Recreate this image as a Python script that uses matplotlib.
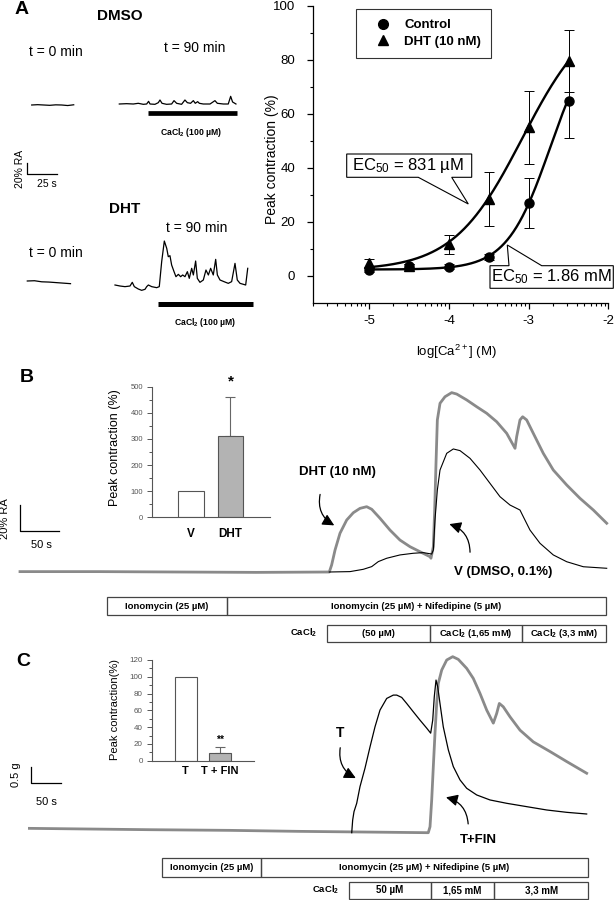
import numpy as np
import matplotlib
matplotlib.use("Agg")
import matplotlib.pyplot as plt
from matplotlib.patches import Rectangle, Polygon, FancyArrowPatch
from matplotlib.lines import Line2D
from matplotlib.ticker import FixedLocator, MultipleLocator

plt.rcParams['font.family'] = ['Liberation Sans', 'DejaVu Sans']
plt.rcParams['mathtext.fontset'] = 'custom'
plt.rcParams['mathtext.rm'] = 'Liberation Sans'
plt.rcParams['mathtext.it'] = 'Liberation Sans:italic'
plt.rcParams['mathtext.bf'] = 'Liberation Sans:bold'
plt.rcParams['axes.unicode_minus'] = False

# ---------------- DATA ----------------
# Panel A: dose-response
log_ca = [-5.0, -4.5, -4.0, -3.5, -3.0, -2.5]
control_mean = [2.2, 3.7, 3.4, 7.0, 26.9, 64.7]
control_err = [0.8, 0.6, 0.8, 1.0, 9.2, 13.6]
dht_mean = [4.7, 3.6, 11.7, 28.6, 55.0, 79.5]
dht_err = [1.5, 0.8, 3.5, 10.0, 13.5, 11.5]
control_fit = dict(bottom=2.3, top=93.0, log_ec50=-2.73, hill=1.6)
dht_fit = dict(bottom=2.0, top=100.0, log_ec50=-3.08, hill=1.0)
ec50_labels = ["EC$_{50}$ = 831 µM", "EC$_{50}$ = 1.86 mM"]

# Panel A traces (time in s, amplitude in % RA)
dmso0_t = [0, 5, 10, 15, 20, 25, 30, 35]
dmso0_a = [0, 0.6, 0, -0.6, 0.3, 0, -1.0, 0.4]
dmso90_t = [0, 6.1, 11.7, 15.8, 20.0, 22.8, 24.4, 25.6, 29.7, 32.5, 33.9, 35.6, 39.4,
            43.6, 45.6, 47.8, 51.9, 54.7, 56.7, 59.4, 61.7, 63.3, 65.3, 66.7, 70.0,
            75.6, 79.7, 81.7, 86.7, 90.8, 92.8, 94.4, 97.2]
dmso90_a = [0, 0.6, 0, 1.3, -0.6, 0, 5.0, 0, -0.6, 2.5, 7.5, 1.3, -0.6,
            0, 6.3, 1.3, -0.6, 7.5, 2.5, 1.3, 6.3, 1.3, 4.4, 1.3, 0,
            0, 6.3, 1.3, 0, 0, 14.4, 3.8, 0]
dht0_t = [0, 6, 12, 18, 24, 30, 36]
dht0_a = [0, 0.5, -1.5, -2.0, -3.0, -4.0, -5.0]
dht90_t = [0, 4.2, 8.3, 12.5, 14.4, 16.1, 19.4, 22.2, 25.0, 26.4, 27.8, 30.6, 34.7,
           36.9, 38.9, 41.1, 43.1, 44.4, 45.8, 47.2, 49.2, 50.8, 52.8, 54.7, 56.4,
           58.3, 60.3, 61.9, 63.9, 65.3, 67.2, 68.6, 70.8, 73.6, 75.8, 77.8, 79.7,
           81.9, 83.9, 85.3, 87.5, 90.8, 94.4, 97.2, 100.0, 101.9, 104.2, 108.9, 110.6]
dht90_a = [0, -1.9, -3.1, -1.9, 5.0, -3.1, -7.5, -10, -8.1, -3.1, 0, -3.1, -5,
           -3.1, 43.8, 82.5, 68.8, 53.1, 55, 37.5, 25, 15.6, 20, 15.6, 18.8,
           15.6, 25, 12.5, 31.3, 18.8, 45, 12.5, 5, 9.4, 28.1, 18.8, 31.3,
           18.8, 48.1, 18.8, 9.4, 6.3, 3.1, 6.3, 40.6, 9.4, 3.1, 0, 31.3]
dmso_cacl2_span = (23.6, 97.8)
dht_cacl2_span = (36.1, 114.7)

# Panel B traces (s, % RA)
b_dht_t = [0, 100, 200, 300, 393.0, 396.0, 400.3, 406.6, 415.1, 423.5, 432.0, 440.5,
           446.9, 457.4, 470.1, 482.8, 495.6, 508.3, 521.0, 522.2, 525.2, 526.9, 528.6,
           530.3, 533.7, 540.0, 548.5, 554.9, 567.6, 580.3, 593.0, 605.7, 618.4, 629.0,
           631.1, 635.3, 638.7, 643.8, 652.2, 664.9, 677.6, 694.7, 711.6, 728.5, 745.5]
b_dht_a = [0.3, 0.3, 0.0, -0.3, 0.0, 5.5, 17.1, 30.2, 40.5, 46.2, 49.6, 50.9,
           48.9, 41.9, 32.7, 24.9, 19.7, 15.8, 11.9, 10.7, 19.7, 48.3, 84.7,
           118.5, 131.5, 136.6, 139.8, 138.7, 134.1, 128.8, 123.7, 117.1, 108.1, 96.4,
           105.5, 118.5, 121.0, 118.5, 108.1, 92.5, 79.5, 67.8, 57.4, 48.3, 38.0]
b_v_t = [393.0, 419.3, 436.2, 446.9, 455.3, 465.9, 482.8, 499.7, 512.5, 523.1, 525.2,
         527.3, 530.3, 533.7, 542.2, 550.6, 559.1, 571.8, 584.5, 597.2, 609.9, 622.6,
         635.3, 639.5, 648.0, 660.7, 677.6, 694.7, 715.8, 745.5]
b_v_a = [0.0, 0.3, 2.1, 4.2, 8.1, 10.7, 13.3, 14.6, 15.1, 14.0, 17.1,
         40.5, 63.9, 79.5, 92.5, 95.9, 94.6, 88.6, 79.5, 69.1, 58.7, 52.2,
         48.3, 43.1, 32.7, 22.4, 13.3, 8.0, 4.1, 2.9]
inset_b_cats = ["V", "DHT"]
inset_b_vals = [100, 312]
inset_b_err = [0, 150]

# Panel C traces (s, g)
c_t_t = [537.2, 538.8, 541.0, 545.5, 551.0, 559.3, 567.7, 576.0, 584.3, 595.5, 606.5,
         612.2, 620.5, 628.8, 639.8, 651.0, 662.2, 668.8, 672.2, 674.8, 677.7, 680.5,
         684.3, 689.8, 698.2, 706.5, 717.7, 728.8, 745.5, 767.7, 795.5, 828.8, 862.2,
         895.5, 928.8]
c_t_a = [0.0, 0.38, 0.63, 0.88, 1.38, 1.93, 2.57, 3.17, 3.67, 4.02, 4.12,
         4.12, 4.05, 3.87, 3.62, 3.37, 3.13, 2.98, 3.37, 4.07, 4.57, 4.37,
         3.87, 3.17, 2.48, 1.98, 1.58, 1.33, 1.13, 0.98, 0.88, 0.78, 0.68,
         0.61, 0.56]
c_fin_t = [0, 100, 200, 334.3, 450, 560, 664.8, 667.7, 670.5, 673.2, 676.0, 678.8,
           681.5, 687.2, 695.5, 705.5, 714.8, 728.8, 739.8, 751.0, 762.2, 773.2, 778.8,
           783.2, 789.8, 801.0, 817.7, 839.8, 867.7, 895.5, 928.8]
c_fin_a = [0.13, 0.11, 0.09, 0.07, 0.04, 0.02, 0.0, 0.18, 0.98, 1.98, 2.98, 3.87,
           4.47, 4.87, 5.17, 5.27, 5.19, 4.92, 4.62, 4.17, 3.67, 3.28, 3.57,
           3.87, 3.77, 3.47, 3.07, 2.72, 2.43, 2.13, 1.78]
inset_c_cats = ["T", "T + FIN"]
inset_c_vals = [100, 9]
inset_c_err = [0, 7.5]

# ---------------- FIGURE ----------------
W, H = 615, 900
fig = plt.figure(figsize=(W / 100, H / 100), dpi=100)
GRAY = "#8a8a8a"


def px_axes(left, top, right, bottom):
    ax = fig.add_axes([left / W, 1 - bottom / H, (right - left) / W, (bottom - top) / H])
    ax.patch.set_alpha(0)
    return ax


def trace_axes(left, top, right, bottom, x0, y0, px_per_x, px_per_y):
    """Axes over a pixel region whose data origin (0,0) sits at pixel (x0, y0)."""
    ax = px_axes(left, top, right, bottom)
    ax.set_xlim((left - x0) / px_per_x, (right - x0) / px_per_x)
    ax.set_ylim((y0 - bottom) / px_per_y, (y0 - top) / px_per_y)
    ax.axis("off")
    return ax


def hill(x, bottom, top, log_ec50, hill):
    return bottom + (top - bottom) / (1 + 10 ** ((log_ec50 - x) * hill))


# ---- Panel A traces: one axes, seconds / %RA ----
A_S, A_P = 1.2, 0.533
axA = trace_axes(0, 0, 300, 340, 0, 0, A_S, A_P)


def put(ax, t, a, x_px, y_px, sx, sy, **kw):
    ax.plot(np.array(t) + x_px / sx, np.array(a) - y_px / sy, **kw)


put(axA, dmso0_t, dmso0_a, 31.7, 105, A_S, A_P, color="black", lw=0.9)
put(axA, dmso90_t, dmso90_a, 119.3, 104, A_S, A_P, color="black", lw=0.9)
put(axA, dht0_t, dht0_a, 27.3, 281, A_S, A_P, color="black", lw=0.9)
put(axA, dht90_t, dht90_a, 115, 285, A_S, A_P, color="black", lw=0.9)
axA.plot([119.3 / A_S + dmso_cacl2_span[0], 119.3 / A_S + dmso_cacl2_span[1]],
         [-113 / A_P] * 2, color="black", lw=3.4, solid_capstyle="butt")
axA.plot([115 / A_S + dht_cacl2_span[0], 115 / A_S + dht_cacl2_span[1]],
         [-304.2 / A_P] * 2, color="black", lw=3.6, solid_capstyle="butt")
# scale bar 20 %RA / 25 s
sbx, sby = 27.3 / A_S, -174 / A_P
axA.plot([sbx, sbx, sbx + 25], [sby + 20, sby, sby], color="black", lw=0.9)

# ---- Panel A dose-response ----
D_L, D_T, D_R, D_B = 313.3, 6, 608.5, 302.7
axD = px_axes(D_L, D_T, D_R, D_B)
axD.set_xlim(-5.7, -2)
axD.set_ylim(-10, 100)
xs = np.linspace(log_ca[0], log_ca[-1], 200)
axD.plot(xs, hill(xs, **control_fit), color="black", lw=1.7, zorder=2)
axD.plot(xs, hill(xs, **dht_fit), color="black", lw=1.7, zorder=2)
axD.errorbar(log_ca, control_mean, yerr=control_err, fmt="none", ecolor="black",
             elinewidth=0.7, capsize=3.5, capthick=0.7, zorder=3)
axD.errorbar(log_ca, dht_mean, yerr=dht_err, fmt="none", ecolor="black",
             elinewidth=0.7, capsize=3.5, capthick=0.7, zorder=3)
axD.plot(log_ca, control_mean, "o", color="black", ms=6.5, zorder=4)
axD.plot(log_ca, dht_mean, "^", color="black", ms=7, zorder=4)
for s in ["top", "right"]:
    axD.spines[s].set_visible(False)
for s in ["left", "bottom"]:
    axD.spines[s].set_linewidth(0.9)
axD.set_xticks([-5, -4, -3, -2])
minor = [d + np.log10(k) for d in range(-6, -2) for k in range(2, 10)]
axD.xaxis.set_minor_locator(FixedLocator([m for m in minor if -5.71 <= m <= -2]))
axD.set_yticks([0, 20, 40, 60, 80, 100])
axD.yaxis.set_minor_locator(FixedLocator([10, 30, 50, 70, 90]))
axD.tick_params(axis="both", which="major", length=4, width=0.9, labelsize=9.5)
axD.tick_params(axis="both", which="minor", length=2.5, width=0.8)
axD.tick_params(axis="y", pad=9)
axD.tick_params(axis="x", pad=5)
axD.set_xlabel("log[Ca$^{2+}$] (M)", fontsize=9.5)
axD.set_ylabel("Peak contraction (%)", fontsize=10)
axD.xaxis.label.set_va("center")
axD.yaxis.label.set_va("center")
axD.xaxis.set_label_coords((456.7 - D_L) / (D_R - D_L), -(351.7 - D_B) / (D_B - D_T))
axD.yaxis.set_label_coords((271.7 - D_L) / (D_R - D_L), (D_B - 159) / (D_B - D_T))
handles = [Line2D([], [], marker="o", color="black", ls="none", ms=7),
           Line2D([], [], marker="^", color="black", ls="none", ms=7.5)]
leg = axD.legend(handles, ["Control", "DHT (10 nM)"], loc="upper left",
                 bbox_to_anchor=(356 / W, 1 - 9 / H), bbox_transform=fig.transFigure,
                 frameon=True, fancybox=False, borderaxespad=0, borderpad=0.75,
                 handlelength=2.6, handletextpad=0.3, labelspacing=0.35,
                 prop={"weight": "bold", "size": 9.5})
leg.get_frame().set_edgecolor("black")
leg.get_frame().set_linewidth(0.8)

# ---- Panel B traces ----
B_S, B_P = 0.787, 1.283
axB = trace_axes(0, 380, 615, 600, 20, 572, B_S, B_P)
axB.plot(b_v_t, b_v_a, color="black", lw=0.8, zorder=3)
axB.plot(b_dht_t, b_dht_a, color=GRAY, lw=2.0, zorder=2)
axB.plot([0, 0, 50], [52.2, 32.2, 32.2], color="black", lw=0.9)

# ---- Panel C traces ----
C_S, C_P = 0.6, 33.4
axC = trace_axes(0, 640, 615, 850, 29.4, 832.7, C_S, C_P)
axC.plot(c_t_t, c_t_a, color="black", lw=0.9, zorder=3)
axC.plot(c_fin_t, c_fin_a, color=GRAY, lw=2.0, zorder=2)
axC.plot([2, 2, 52], [1.98, 1.48, 1.48], color="black", lw=0.9)


# ---- Insets ----
def inset(left, top, right, bottom, cats, vals, errs, ymax, major, minor_step,
          lab, labsize, ticksize, catsize, catpad, lab_xy):
    ax = px_axes(left, top, right, bottom)
    x = np.arange(1, len(cats) + 1)
    ax.bar(x, vals, width=0.65, color=["white", "#b3b3b3"], edgecolor="#555555",
           linewidth=0.8, zorder=2)
    idx = [i for i, e in enumerate(errs) if e > 0]
    ax.errorbar([x[i] for i in idx], [vals[i] for i in idx],
                yerr=[[0] * len(idx), [errs[i] for i in idx]], fmt="none",
                ecolor="#666666", elinewidth=0.8, capsize=3.5, capthick=0.8, zorder=1)
    ax.set_xlim(0, 3)
    ax.set_ylim(0, ymax)
    ax.set_xticks(x)
    ax.set_xticklabels(cats, fontsize=catsize, fontweight="bold")
    ax.yaxis.set_major_locator(MultipleLocator(major))
    ax.yaxis.set_minor_locator(MultipleLocator(minor_step))
    for s in ["top", "right"]:
        ax.spines[s].set_visible(False)
    for s in ["left", "bottom"]:
        ax.spines[s].set_color("#555555")
        ax.spines[s].set_linewidth(0.8)
    ax.tick_params(axis="x", length=0, pad=catpad)
    ax.tick_params(axis="y", which="major", length=3.5, width=0.7, colors="#555555",
                   labelsize=ticksize, pad=3)
    ax.tick_params(axis="y", which="minor", length=2.5, width=0.7, colors="#555555")
    ax.set_ylabel(lab, fontsize=labsize)
    ax.yaxis.label.set_va("center")
    ax.yaxis.set_label_coords((lab_xy[0] - left) / (right - left),
                              (bottom - lab_xy[1]) / (bottom - top))
    return ax


axIB = inset(152, 386.7, 269.6, 517.3, inset_b_cats, inset_b_vals, inset_b_err,
             500, 100, 50, "Peak contraction (%)", 9, 5.5, 8.5, 8, (115, 448))
axIC = inset(151.7, 660, 253.7, 760.7, inset_c_cats, inset_c_vals, inset_c_err,
             120, 20, 10, "Peak contraction(%)", 8, 5.8, 8, 3.5, (115, 710))

# ---- Overlay: text, boxes, arrows ----
ov = fig.add_axes([0, 0, 1, 1])
ov.set_xlim(0, W)
ov.set_ylim(H, 0)
ov.axis("off")
ov.patch.set_alpha(0)


def T(x, y, s, size, bold=False, **kw):
    kw.setdefault("ha", "center")
    kw.setdefault("va", "center")
    ov.text(x, y, s, fontsize=size, fontweight="bold" if bold else "normal", **kw)


T(21.7, 9, "A", 14, True)
T(27, 377, "B", 14, True)
T(23.5, 662, "C", 14, True)

T(120, 16, "DMSO", 11, True)
T(55.8, 51.7, "t = 0 min", 10)
T(194.7, 48.3, "t = 90 min", 10)
T(190.8, 132.7, "CaCl$_\\mathbf{2}$ (100 µM)", 6.2, True)
T(20, 169, "20% RA", 7.5, rotation=90)
T(46.7, 184.3, "25 s", 7.5)
T(125, 209, "DHT", 11, True)
T(196.3, 227.5, "t = 90 min", 10)
T(55.8, 253.3, "t = 0 min", 10)
T(205.5, 322.5, "CaCl$_\\mathbf{2}$ (100 µM)", 6.2, True)

# EC50 callouts
call1 = [(346.7, 154), (471.7, 154), (471.7, 177.3), (451.7, 177.3), (468.3, 204),
         (418.3, 177.3), (346.7, 177.3)]
call2 = [(490, 265.7), (509, 265.7), (507.3, 245), (541.7, 265.7), (613.3, 265.7),
         (613.3, 288.3), (490, 288.3)]
for poly in (call1, call2):
    ov.add_patch(Polygon(poly, closed=True, facecolor="white", edgecolor="black",
                         lw=0.8, zorder=5))
T(408.5, 165.5, ec50_labels[0], 12, zorder=6)
T(551.5, 277, ec50_labels[1], 12, zorder=6)

# Panel B labels
T(5, 519, "20% RA", 8, rotation=90)
T(41.7, 545, "50 s", 8)
T(230.7, 381, "*", 11, True)
T(337, 471.7, "DHT (10 nM)", 9.5, True)
T(503, 571.7, "V (DMSO, 0.1%)", 9.5, True)

# Panel C labels
T(15.7, 775, "0.5 g", 8, rotation=90)
T(46.3, 801.7, "50 s", 8)
T(220, 739.5, "**", 7.5, True)
T(340, 732.7, "T", 10, True)
T(478.3, 840, "T+FIN", 9.5, True)


def arrow(p0, p1):
    ov.add_patch(FancyArrowPatch(p0, p1, connectionstyle="arc3,rad=0.4",
                                 arrowstyle="-|>,head_length=0.7,head_width=0.35",
                                 mutation_scale=10, color="black", lw=0.9))


arrow((320.7, 491.7), (336.7, 526.7))
arrow((470, 555), (446.7, 523.3))
arrow((340.7, 745), (358.3, 779.3))
arrow((468.3, 826.7), (443.3, 796.7))


def box(x0, x1, y0, y1, label, size=6.8):
    ov.add_patch(Rectangle((x0, y0), x1 - x0, y1 - y0, facecolor="none",
                           edgecolor="#444444", lw=0.9))
    if label:
        T((x0 + x1) / 2, (y0 + y1) / 2, label, size, True)


# Panel B protocol boxes
box(106.7, 226.7, 597.3, 615, "Ionomycin (25 µM)")
box(226.7, 606, 597.3, 615, "Ionomycin (25 µM) + Nifedipine (5 µM)")
T(304, 633, "CaCl$_\\mathbf{2}$", 6.8, True)
box(326.7, 430, 624.5, 641.5, "(50 µM)")
box(430, 522, 624.5, 641.5, "CaCl$_\\mathbf{2}$ (1,65 mM)")
box(522, 606, 624.5, 641.5, "CaCl$_\\mathbf{2}$ (3,3 mM)")

# Panel C protocol boxes
box(162, 260.8, 858.3, 876.7, "Ionomycin (25 µM)")
box(260.8, 588.2, 858.3, 876.7, "Ionomycin (25 µM) + Nifedipine (5 µM)")
T(325.5, 890, "CaCl$_\\mathbf{2}$", 6.8, True)
box(349, 430.6, 881.7, 899, "50 µM", 7)
box(430.6, 494, 881.7, 899, "1,65 mM", 7)
box(494, 588.2, 881.7, 899, "3,3 mM", 7)

fig.savefig("out.png", dpi=100)
